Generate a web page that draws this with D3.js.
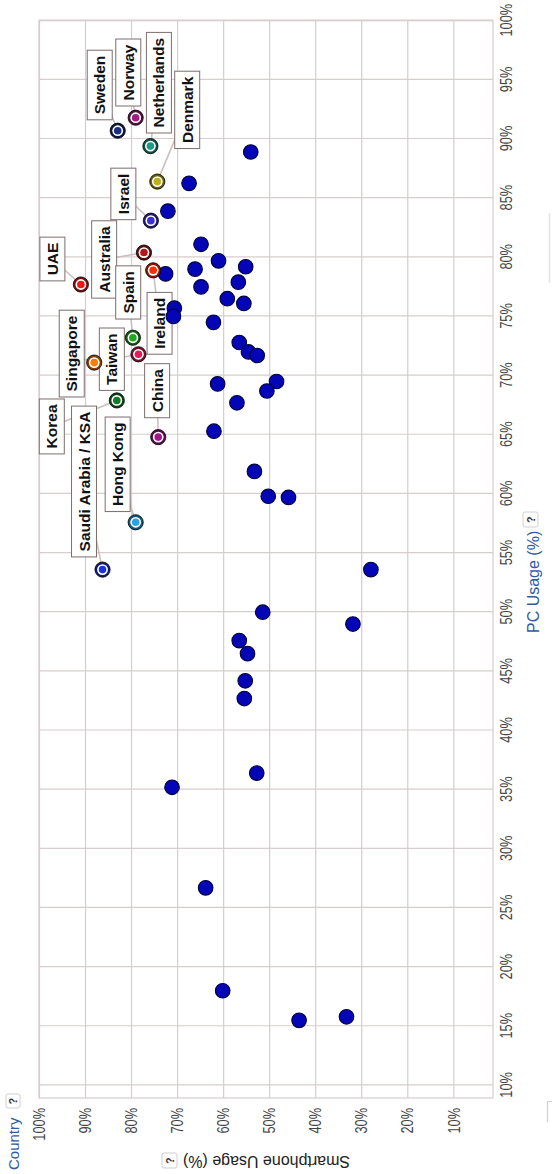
<!DOCTYPE html>
<html>
<head>
<meta charset="utf-8">
<script src="https://cdn.jsdelivr.net/npm/d3@7"></script>
<style>
  body { margin: 0; background: #fff; }
  svg { display: block; font-family: "Liberation Sans", Arial, sans-serif; }
</style>
</head>
<body>
<div id="chart"></div>
<script>
// tick values
var pcTicks = [10, 15, 20, 25, 30, 35, 40, 45, 50, 55, 60, 65, 70, 75, 80, 85, 90, 95, 100];
var smartTicks = [10, 20, 30, 40, 50, 60, 70, 80, 90, 100];

// countries without a label
var otherSmart = [67.4, 54.0, 72.0, 64.8, 61.0, 66.1, 55.1, 72.5, 64.8, 56.7, 59.1, 55.5, 70.6, 70.8, 62.1,
  56.5, 54.5, 52.6, 61.2, 48.4, 50.5, 57.0, 62.0, 53.2, 50.2, 45.8, 27.9, 51.4, 31.8, 56.5,
  54.7, 55.2, 55.4, 52.7, 71.1, 63.8, 60.1, 43.5, 33.2];
var otherPc = [86.25, 88.9, 83.9, 81.1, 79.7, 79.0, 79.2, 78.6, 77.5, 77.9, 76.5, 76.1, 75.7, 75.0, 74.5,
  72.8, 72.0, 71.7, 69.3, 69.5, 68.7, 67.7, 65.3, 61.9, 59.8, 59.7, 53.6, 50.0, 49.0, 47.6,
  46.5, 44.2, 42.7, 36.4, 35.2, 26.7, 18.0, 15.5, 15.8];

// labelled countries
var countries = ["Sweden", "Norway", "Netherlands", "Denmark", "Israel", "Australia", "UAE", "Ireland",
  "Spain", "Taiwan", "Singapore", "Korea", "China", "Hong Kong", "Saudi Arabia / KSA"];
var countrySmart = [82.9, 79.0, 75.8, 74.3, 75.7, 77.2, 90.9, 75.2, 79.6, 78.4, 88.0, 83.1, 74.1, 79.0, 86.2];
var countryPc = [90.7, 91.8, 89.4, 86.4, 83.1, 80.4, 77.7, 78.9, 73.2, 71.8, 71.1, 67.9, 64.8, 57.6, 53.6];

// styling of the labelled countries
var countryColors = ["#1c2e80", "#a21c80", "#1a9c84", "#bfae1e", "#3b2fd6", "#b3161b", "#f01616", "#ff2a00",
  "#22a622", "#e21c58", "#ff7a00", "#137a25", "#a3168e", "#2ba4e6", "#1d33d8"];
// label box centre relative to its bubble, in screen px (dx, dy)
var labelOffsets = [[-18, -45.7], [-7.4, -45.2], [8.5, -63.4], [29.9, -71.7], [-27.5, -26.7], [-39.8, 6.9],
  [-28.5, -25.5], [6.4, 53], [-4.7, -45.3], [-26.6, 4.9], [-22.5, -9], [-65, 26], [-1.1, -46.4],
  [-18, -58], [-18.5, -88.1]];

var svgWidth = 552;
var svgHeight = 1174;

// the chart is drawn upright, then turned a quarter turn
var margin = { left: 76, top: 39 };
var width = 1077.3;
var height = 454;
var gridColor = "#d8cccc";

var svg = d3.select("#chart")
  .append("svg")
  .attr("width", svgWidth)
  .attr("height", svgHeight);

// bits of the surrounding UI cut off at the right edge
svg.append("line")
  .attr("x1", 549.5).attr("x2", 549.5).attr("y1", 213).attr("y2", 283)
  .attr("stroke", "#e2e2e2").attr("stroke-width", 1.5);
svg.append("path")
  .attr("d", "M552,1101.5 H547.5 V1122")
  .attr("fill", "none").attr("stroke", "#d0d0d0").attr("stroke-width", 1.2);

var chart = svg.append("g")
  .attr("transform", `translate(0, ${svgHeight}) rotate(-90) translate(${margin.left}, ${margin.top})`);

var xScale = d3.scaleLinear().domain([10, 100]).range([12.6, width]);
var yScale = d3.scaleLinear().domain([10, 100]).range([414.3, 0]);

// axes with grid lines
var xAxis = chart.append("g")
  .attr("transform", `translate(0, ${height})`)
  .call(d3.axisBottom(xScale).tickValues(pcTicks).tickSize(-height).tickFormat(d => d + "%"));

var yAxis = chart.append("g")
  .call(d3.axisLeft(yScale).tickValues(smartTicks).tickSize(-width).tickFormat(d => d + "%"));

[xAxis, yAxis].forEach(function(ax) {
  ax.select(".domain").remove();
  ax.selectAll("line").attr("stroke", gridColor).attr("stroke-width", 1.2);
  ax.selectAll("text")
    .attr("fill", "#444")
    .attr("font-size", "16px")
    .attr("font-family", "'Liberation Sans', Arial, sans-serif")
    .attr("dy", null);
});
xAxis.selectAll("text").attr("y", null).attr("transform", "translate(0, 18.7) scale(0.8, 1)");
yAxis.selectAll("text").attr("x", null).attr("transform", "translate(-10, 5.7) scale(0.8, 1)");

chart.append("rect")
  .attr("width", width).attr("height", height)
  .attr("fill", "none").attr("stroke", gridColor).attr("stroke-width", 1.2);

// help button
function helpBox(g, x, y, size) {
  var b = g.append("g").attr("transform", `translate(${x}, ${y})`);
  b.append("rect").attr("width", size).attr("height", size).attr("rx", 2)
    .attr("fill", "#fff").attr("stroke", "#cfcfcf");
  b.append("text").attr("x", size / 2).attr("y", size / 2 + 4)
    .attr("text-anchor", "middle").attr("font-size", "11px").attr("font-weight", "bold")
    .attr("fill", "#333").text("?");
}

// axis titles
chart.append("text")
  .attr("x", 465).attr("y", 499.5)
  .attr("font-size", "16px").attr("fill", "#2f5aa8")
  .text("PC Usage (%)");
helpBox(chart, 571, 484, 15);

chart.append("text")
  .attr("transform", `translate(-58, ${(311 + 144) / 2}) rotate(-90)`)
  .attr("text-anchor", "middle")
  .attr("font-size", "16px").attr("fill", "#222")
  .text("Smartphone Usage (%)");
helpBox(chart, -70, 123, 15);

chart.append("text")
  .attr("x", -72).attr("y", -20)
  .attr("font-size", "15px").attr("fill", "#2f5aa8")
  .text("Country");
helpBox(chart, -10, -33, 14);

// labelled countries data
var labelled = countries.map(function(c, i) {
  return { name: c, pc: countryPc[i], sm: countrySmart[i], color: countryColors[i], off: labelOffsets[i] };
});
// screen offset -> upright frame offset
function labelX(d) { return xScale(d.pc) - d.off[1]; }
function labelY(d) { return yScale(d.sm) + d.off[0]; }

// connectors
chart.selectAll(".connector")
  .data(labelled)
  .enter()
  .append("line")
  .attr("x1", d => xScale(d.pc)).attr("y1", d => yScale(d.sm))
  .attr("x2", labelX).attr("y2", labelY)
  .attr("stroke", "#cbbebe").attr("stroke-width", 1.5);

// label boxes
var labels = chart.selectAll(".label")
  .data(labelled)
  .enter()
  .append("g")
  .attr("transform", d => `translate(${labelX(d)}, ${labelY(d)})`);

labels.append("rect");
labels.append("text")
  .attr("text-anchor", "middle")
  .attr("dy", "0.36em")
  .attr("font-size", "15.5px")
  .attr("font-weight", "bold")
  .attr("fill", "#111")
  .text(d => d.name);

labels.each(function() {
  var g = d3.select(this);
  var len = g.select("text").node().getComputedTextLength();
  g.select("rect")
    .attr("x", -len / 2 - 5.5).attr("y", -12.5)
    .attr("width", len + 11).attr("height", 25)
    .attr("fill", "#fff").attr("stroke", "#7d6d6d").attr("stroke-width", 1);
});

// unlabelled bubbles
chart.selectAll(".dot")
  .data(otherSmart.map((s, i) => ({ sm: s, pc: otherPc[i] })))
  .enter()
  .append("circle")
  .attr("cx", d => xScale(d.pc))
  .attr("cy", d => yScale(d.sm))
  .attr("r", 7.3)
  .attr("fill", "#0505b8")
  .attr("stroke", "#00003a")
  .attr("stroke-width", 1.1);

// highlighted bubbles
var marks = chart.selectAll(".mark")
  .data(labelled)
  .enter()
  .append("g")
  .attr("transform", d => `translate(${xScale(d.pc)}, ${yScale(d.sm)})`);

marks.append("circle").attr("r", 7.6)
  .attr("fill", d => d3.color(d.color).darker(1.8))
  .attr("stroke", "#000").attr("stroke-width", 0.8);
marks.append("circle").attr("r", 5.4).attr("fill", "#fff");
marks.append("circle").attr("r", 3.8).attr("fill", d => d.color);
</script>
</body>
</html>
